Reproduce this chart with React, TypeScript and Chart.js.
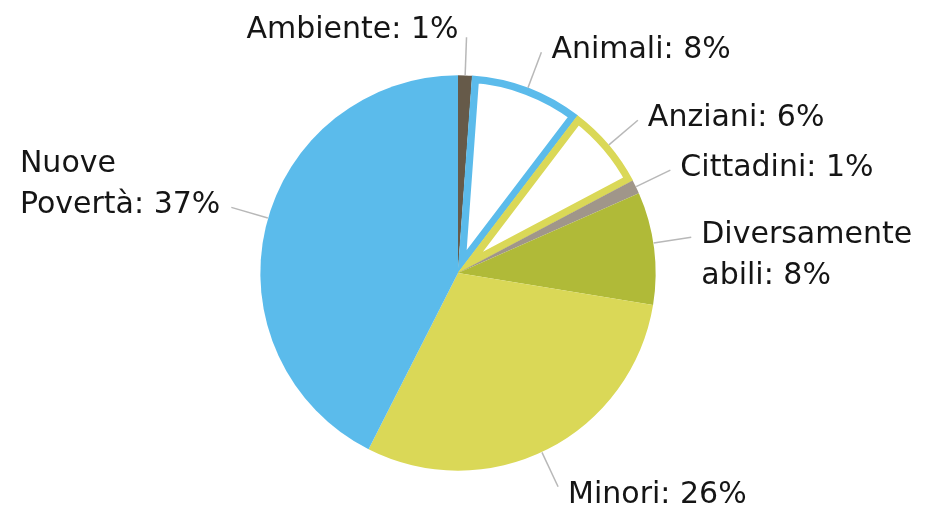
import React, { useEffect, useRef } from "react";
import { Chart, registerables } from "chart.js";

Chart.register(...registerables);

const categories = [
  "Ambiente",
  "Animali",
  "Anziani",
  "Cittadini",
  "Diversamente abili",
  "Minori",
  "Nuove Povertà",
];
const percentages = [1, 8, 6, 1, 8, 26, 37];

const fillColors = ["#665A49", "#FFFFFF", "#FFFFFF", "#A0968A", "#B0BA38", "#DAD857", "#5BBBEB"];
const edgeColors = ["#665A49", "#5BBBEB", "#DAD857", "#A0968A", "#B0BA38", "#DAD857", "#5BBBEB"];
const edgeWidths = [0, 7, 7, 0, 0, 0, 0];

// small angular nudges (degrees) of the leader lines, layout only
const leaderNudgeDeg = [0, 0, 0, 0, -1.5, 1.8, 2.7];

const FONT = "30px 'DejaVu Sans'";
const LINE_H = 41;

function labelLines(name: string, value: number): string[] {
  const words = name.split(" ");
  const lines = words.slice();
  lines[lines.length - 1] = lines[lines.length - 1] + ": " + value + "%";
  return lines;
}

const outsideLabels = {
  id: "outsideLabels",
  afterDraw(chart: any) {
    const ctx = chart.ctx;
    const meta = chart.getDatasetMeta(0);
    const values = chart.data.datasets[0].data as number[];
    ctx.save();
    ctx.font = FONT;
    meta.data.forEach((arc: any, i: number) => {
      const p = arc.getProps(["x", "y", "startAngle", "endAngle", "outerRadius"], true);
      const mid = (p.startAngle + p.endAngle) / 2 + (leaderNudgeDeg[i] * Math.PI) / 180;
      const dx = Math.cos(mid);
      const dy = Math.sin(mid);
      const sx = p.x + p.outerRadius * dx;
      const sy = p.y + p.outerRadius * dy;
      const ex = p.x + (p.outerRadius + 38) * dx;
      const ey = p.y + (p.outerRadius + 38) * dy;
      ctx.beginPath();
      ctx.strokeStyle = "#B8B8B8";
      ctx.lineWidth = 1.5;
      ctx.moveTo(sx, sy);
      ctx.lineTo(ex, ey);
      ctx.stroke();

      const lines = labelLines(chart.data.labels[i], values[i]);
      ctx.fillStyle = "#151515";
      ctx.textBaseline = "alphabetic";
      if (Math.abs(dx) < 0.15) {
        ctx.textAlign = "right";
        const base = ey + 1 - (lines.length - 1) * LINE_H;
        lines.forEach((t, k) => ctx.fillText(t, ex - 8, base + k * LINE_H));
      } else if (dx > 0) {
        ctx.textAlign = "left";
        const base = dy > 0.7 ? ey + 16 : ey + 6;
        lines.forEach((t, k) => ctx.fillText(t, ex + 10, base + k * LINE_H));
      } else {
        ctx.textAlign = "left";
        const w = Math.max(...lines.map((t) => ctx.measureText(t).width));
        const base = ey + 6 - (lines.length - 1) * LINE_H;
        lines.forEach((t, k) => ctx.fillText(t, ex - 11 - w, base + k * LINE_H));
      }
    });
    ctx.restore();
  },
};

export default function App() {
  const ref = useRef<HTMLCanvasElement | null>(null);
  useEffect(() => {
    if (!ref.current) return;
    const chart = new Chart(ref.current, {
      type: "pie",
      data: {
        labels: categories,
        datasets: [
          {
            data: percentages,
            backgroundColor: fillColors,
            borderColor: edgeColors,
            borderWidth: edgeWidths,
            borderAlign: "inner",
            hoverBorderWidth: 0,
            hoverOffset: 0,
          } as any,
        ],
      },
      options: {
        responsive: false,
        animation: false,
        events: [],
        layout: { padding: { left: 260, right: 269, top: 75, bottom: 39 } },
        plugins: {
          legend: { display: false },
          tooltip: { enabled: false },
        },
      },
      plugins: [outsideLabels],
    });
    return () => chart.destroy();
  }, []);
  return (
    <div style={{ position: "fixed", left: 0, top: 0, width: 925, height: 510, background: "#fff" }}>
      <canvas ref={ref} width={925} height={510} />
    </div>
  );
}
